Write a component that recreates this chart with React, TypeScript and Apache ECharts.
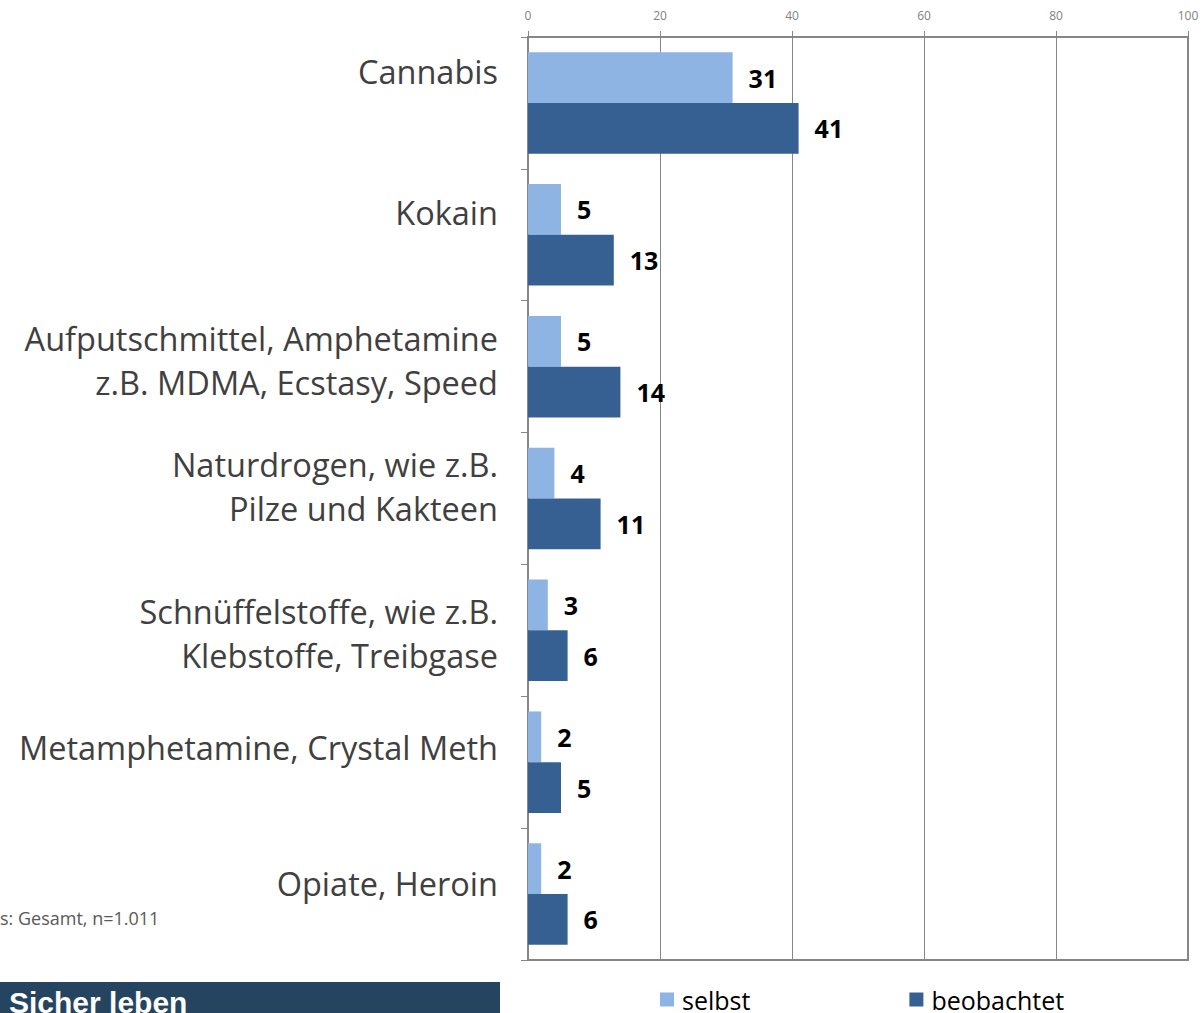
import React, { useEffect, useRef } from "react";
import * as echarts from "echarts";

const categories = [
  "Cannabis",
  "Kokain",
  "Aufputschmittel, Amphetamine\nz.B. MDMA, Ecstasy, Speed",
  "Naturdrogen, wie z.B.\nPilze und Kakteen",
  "Schnüffelstoffe, wie z.B.\nKlebstoffe, Treibgase",
  "Metamphetamine, Crystal Meth",
  "Opiate, Heroin",
];
const selbst = [31, 5, 5, 4, 3, 2, 2];
const beobachtet = [41, 13, 14, 11, 6, 5, 6];
const seriesNames = ["selbst", "beobachtet"];
const xTicks = { min: 0, max: 100, interval: 20 };
const footnote = "s: Gesamt, n=1.011";
const bannerTitle = "Sicher leben";

// vertical label shifts (px) per category, layout only
const labelShift = [-31, -22, -6, -12, 3, -15, -11];

export default function App() {
  const ref = useRef<HTMLDivElement>(null);
  useEffect(() => {
    if (!ref.current) return;
    const chart = echarts.init(ref.current, null, { renderer: "svg" });
    const rich: any = {
      a: { fontSize: 32.5, lineHeight: 44, color: "#404040", fontFamily: "Open Sans" },
    };
    labelShift.forEach((s, i) => {
      rich["s" + i] = { fontSize: 1, lineHeight: Math.max(1, Math.abs(s) * 2), color: "rgba(0,0,0,0)" };
    });
    const labelFont = "Open Sans";
    const valueLabel = {
      show: true,
      position: "right",
      distance: 16,
      fontSize: 25,
      fontWeight: "bold",
      color: "#000",
      fontFamily: labelFont,
    };
    chart.setOption({
      animation: false,
      backgroundColor: "#ffffff",
      grid: {
        left: 528,
        right: 14,
        top: 37,
        bottom: 53,
        show: true,
        borderColor: "#868686",
        borderWidth: 2,
        containLabel: false,
      },
      xAxis: {
        type: "value",
        position: "top",
        min: xTicks.min,
        max: xTicks.max,
        interval: xTicks.interval,
        axisLine: { show: true, lineStyle: { color: "#868686", width: 2 } },
        axisTick: { show: true, length: 6, lineStyle: { color: "#868686" } },
        axisLabel: { fontSize: 12, color: "#7f7f7f", margin: 16, fontFamily: labelFont },
        splitLine: { show: true, lineStyle: { color: "#868686", width: 1 } },
      },
      yAxis: {
        type: "category",
        inverse: true,
        data: categories,
        axisLine: { show: true, lineStyle: { color: "#868686", width: 2 } },
        axisTick: { show: true, length: 7, lineStyle: { color: "#868686" } },
        axisLabel: {
          margin: 30,
          align: "right",
          verticalAlign: "middle",
          rich,
          formatter: (value: string, idx: number) => {
            const lines = value.split("\n").map((l) => `{a|${l}}`);
            const s = labelShift[idx] || 0;
            const sp = `{s${idx}| }`;
            if (s < 0) lines.push(sp);
            else if (s > 0) lines.unshift(sp);
            return lines.join("\n");
          },
        },
      },
      legend: {
        left: 655,
        top: 982,
        itemWidth: 14,
        itemHeight: 14,
        itemGap: 159,
        icon: "rect",
        textStyle: { fontSize: 25, color: "#000", fontFamily: labelFont, padding: [0, 0, 0, 3] },
        data: seriesNames,
      },
      series: [
        {
          name: seriesNames[0],
          type: "bar",
          data: selbst,
          barGap: "0%",
          barCategoryGap: "23%",
          itemStyle: { color: "#8db4e2" },
          label: valueLabel,
        },
        {
          name: seriesNames[1],
          type: "bar",
          data: beobachtet,
          barGap: "0%",
          barCategoryGap: "23%",
          itemStyle: { color: "#366092" },
          label: valueLabel,
        },
      ],
      graphic: [
        {
          type: "text",
          left: 0,
          top: 909,
          style: { text: footnote, fontSize: 18, fill: "#595959", fontFamily: labelFont },
        },
        {
          type: "rect",
          shape: { x: 0, y: 982, width: 500, height: 40 },
          style: { fill: "#24445f" },
        },
        {
          type: "text",
          x: 9,
          y: 987,
          style: {
            text: bannerTitle,
            fontSize: 30,
            fontWeight: "bold",
            fill: "#ffffff",
            fontFamily: "Liberation Sans",
            verticalAlign: "top",
          },
        },
      ],
    });
    return () => chart.dispose();
  }, []);
  return (
    <div
      ref={ref}
      style={{ position: "fixed", left: 0, top: 0, width: 1202, height: 1013 }}
    />
  );
}
